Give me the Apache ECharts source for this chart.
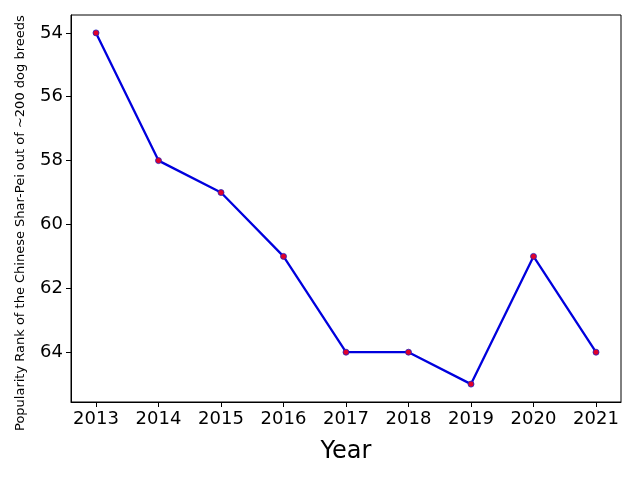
<!DOCTYPE html>
<html><head><meta charset="utf-8">
<script src="https://cdn.jsdelivr.net/npm/echarts@6/dist/echarts.min.js"></script>
<style>html,body{margin:0;padding:0;background:#fff}#c{width:640px;height:480px}</style>
</head><body><div id="c"></div>
<script>
const years = [2013, 2014, 2015, 2016, 2017, 2018, 2019, 2020, 2021];
const ranks = [54, 58, 59, 61, 64, 64, 65, 61, 64];
const yTicks = [54, 56, 58, 60, 62, 64];
const yTitle = 'Popularity Rank of the Chinese Shar-Pei out of ~200 dog breeds';
const chart = echarts.init(document.getElementById('c'));
const font = 'DejaVu Sans';
chart.setOption({
  animation: false,
  grid: {left: 71, right: 19, top: 15, bottom: 78, show: true, borderColor: '#000', borderWidth: 1},
  graphic: [{
    type: 'text', x: 21, y: 431, rotation: Math.PI / 2,
    style: {text: yTitle, fontSize: 13, fontFamily: font, fill: '#000',
      textAlign: 'left', textVerticalAlign: 'middle'}
  }],
  xAxis: {
    type: 'value', min: 2012.6, max: 2021.4, interval: 1,
    name: 'Year', nameLocation: 'middle', nameGap: 38,
    nameTextStyle: {fontSize: 24, color: '#000', fontFamily: font},
    axisLine: {show: true, lineStyle: {color: '#000'}},
    axisTick: {show: true, length: 5, lineStyle: {color: '#000'}, customValues: years},
    axisLabel: {fontSize: 18, color: '#000', fontFamily: font, margin: 8,
      customValues: years, formatter: v => String(v)},
    splitLine: {show: false}
  },
  yAxis: {
    type: 'value', inverse: true, min: 53.44, max: 65.56,
    axisLine: {show: true, lineStyle: {color: '#000'}},
    axisTick: {show: true, length: 5, lineStyle: {color: '#000'}, customValues: yTicks},
    axisLabel: {fontSize: 18, color: '#000', fontFamily: font, margin: 8,
      customValues: yTicks, formatter: v => String(v)},
    splitLine: {show: false}
  },
  series: [{
    type: 'line',
    data: years.map((y, i) => [y, ranks[i]]),
    lineStyle: {color: '#0000dd', width: 2.3},
    symbol: 'circle', symbolSize: 6,
    itemStyle: {color: '#e0002a', borderColor: '#2020c0', borderWidth: 0.8},
    z: 3
  }]
});
</script></body></html>
